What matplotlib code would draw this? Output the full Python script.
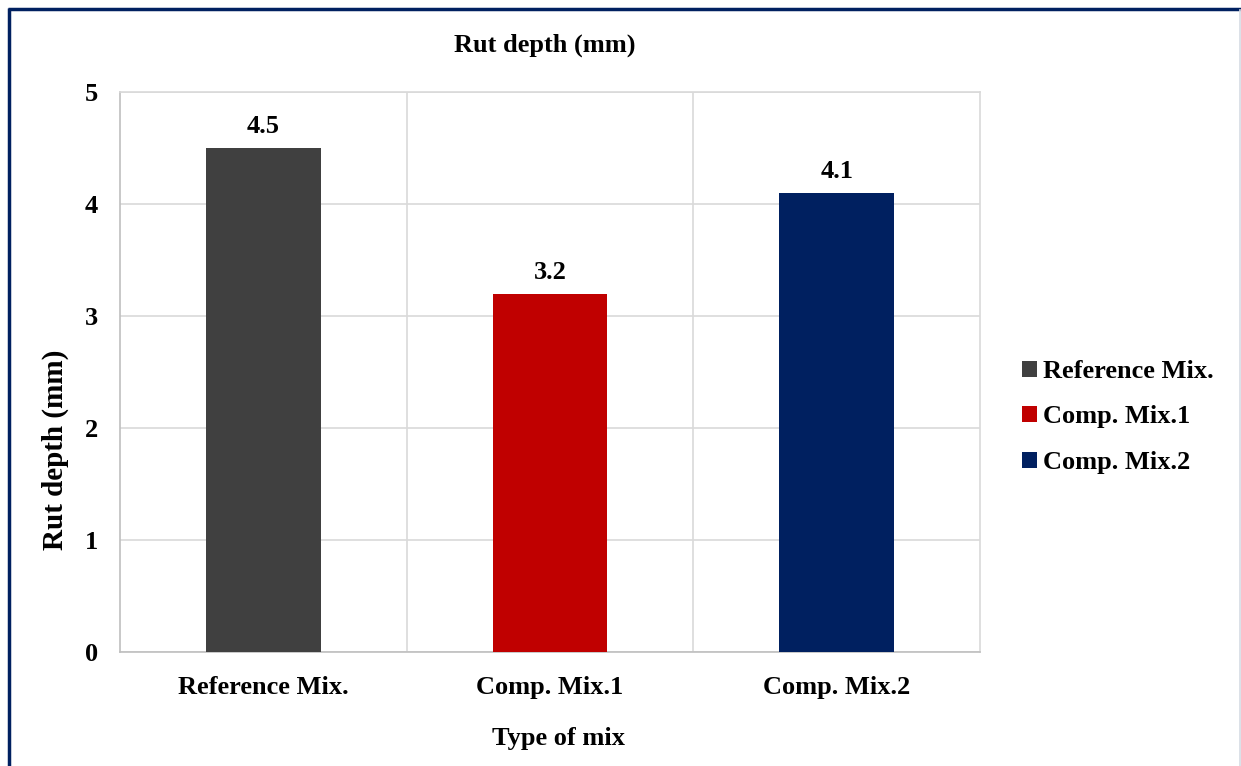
import matplotlib.pyplot as plt
from matplotlib.lines import Line2D
from matplotlib.patches import Patch

# data
mixes = ["Reference Mix.", "Comp. Mix.1", "Comp. Mix.2"]
rut_depth = [4.5, 3.2, 4.1]
colors = ["#404040", "#C00000", "#002060"]

plt.rcParams["font.family"] = ["Liberation Serif", "DejaVu Serif"]
plt.rcParams["font.weight"] = "bold"

fig = plt.figure(figsize=(12.41, 7.66), dpi=100)
ax = fig.add_axes([120 / 1241, 1 - 652 / 766, 860 / 1241, 560 / 766])

x = range(len(mixes))
bars = ax.bar(x, rut_depth, width=0.4, color=colors, zorder=3)
for b, v in zip(bars, rut_depth):
    ax.annotate(f"{v}", (b.get_x() + b.get_width() / 2, v), xytext=(0, 7),
                textcoords="offset points", ha="center", va="bottom",
                fontsize=19, fontweight="bold")

ax.set_xlim(-0.5, 2.5)
ax.set_ylim(0, 5)
ax.set_yticks(range(6))
ax.set_xticks(list(x))
ax.set_xticklabels(mixes)
ax.tick_params(length=0, labelsize=19)
ax.tick_params(axis="x", pad=17)
ax.tick_params(axis="y", pad=16)
for lbl in ax.get_xticklabels() + ax.get_yticklabels():
    lbl.set_fontweight("bold")

# grid: horizontal at each unit, vertical at category boundaries
ax.grid(axis="y", color="#d9d9d9", lw=1.2, zorder=0)
for xb in [0.5, 1.5]:
    ax.axvline(xb, color="#d9d9d9", lw=1.2, zorder=0)
for s in ax.spines.values():
    s.set_color("#d9d9d9")
    s.set_linewidth(1.2)
ax.spines["bottom"].set_color("#bfbfbf")
ax.spines["left"].set_color("#bfbfbf")

fig.text(545 / 1241, 1 - 45 / 766, "Rut depth (mm)", ha="center", va="center",
         fontsize=19, fontweight="bold")
fig.text(55 / 1241, 1 - 450 / 766, "Rut depth (mm)", ha="center", va="center",
         rotation=90, fontsize=21, fontweight="bold")
fig.text(559 / 1241, 1 - 738 / 766, "Type of mix", ha="center", va="center",
         fontsize=19, fontweight="bold")

handles = [Patch(facecolor=c) for c in colors]
fig.legend(handles, mixes, loc="center left", bbox_to_anchor=(1009 / 1241, 1 - 417 / 766),
           frameon=False, handlelength=0.55, handleheight=0.55,
           handletextpad=0.25, labelspacing=0.85, borderpad=0,
           prop={"weight": "bold", "size": 19})

# outer border (navy on left/top, light on right)
fig.add_artist(Line2D([8.5 / 1241, 8.5 / 1241], [0, 1 - 8 / 766], transform=fig.transFigure,
                      color="#002060", lw=2.5, solid_capstyle="butt"))
fig.add_artist(Line2D([7.5 / 1241, 1], [1 - 8.5 / 766, 1 - 8.5 / 766], transform=fig.transFigure,
                      color="#002060", lw=2.5, solid_capstyle="butt"))
fig.add_artist(Line2D([1239.5 / 1241, 1239.5 / 1241], [0, 1 - 10 / 766], transform=fig.transFigure,
                      color="#d6dce4", lw=1.2))

fig.savefig("out.png", dpi=100)
